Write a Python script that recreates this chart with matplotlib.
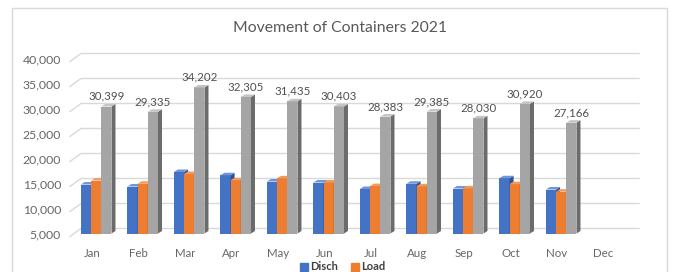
import matplotlib
matplotlib.use("Agg")
import matplotlib.pyplot as plt
from matplotlib.patches import Polygon, Rectangle
from matplotlib.lines import Line2D
import numpy as np

months = ["Jan", "Feb", "Mar", "Apr", "May", "Jun", "Jul", "Aug", "Sep", "Oct", "Nov", "Dec"]
disch = [14800, 14400, 17300, 16650, 15400, 15200, 13900, 14950, 14000, 16050, 13800]
load = [15599, 14935, 16902, 15655, 16035, 15203, 14483, 14435, 14030, 14870, 13366]
total = [30399, 29335, 34202, 32305, 31435, 30403, 28383, 29385, 28030, 30920, 27166]
yticks = [5000, 10000, 15000, 20000, 25000, 30000, 35000, 40000]

plt.rcParams['font.family'] = ['Lato', 'DejaVu Sans']

W, H = 673, 272
fig = plt.figure(figsize=(W / 100, H / 100), dpi=100)
fig.patch.set_facecolor('white')
fig.patches.append(Rectangle((12 / W, -0.1), (667 - 12) / W, 1.1 - 8 / H,
                             transform=fig.transFigure, facecolor='none',
                             edgecolor='#d9d9d9', lw=1.0))

ax_left, ax_w = 68.75, 558.0
ax_bot, ax_top = 233.5, 58.5
ax = fig.add_axes([ax_left / W, (H - ax_bot) / H, ax_w / W, (ax_bot - ax_top) / H])
ax.set_xlim(-0.5, 11.5)
ax.set_ylim(yticks[0], yticks[-1])
for s in ax.spines.values():
    s.set_visible(False)
ax.set_facecolor('none')

# px -> data units
px_y = (yticks[-1] - yticks[0]) / (ax_bot - ax_top)
px_x = 12 / ax_w

# back-wall gridlines (offset as in 3D chart)
gt = ax.get_yaxis_transform()
for v in yticks:
    xa0 = (70 - ax_left) / ax_w
    xa1 = (81 - ax_left) / ax_w
    xa2 = (639 - ax_left) / ax_w
    ax.plot([xa0, xa1, xa2], [v - 3 * px_y, v + 5 * px_y, v + 5 * px_y],
            transform=gt, color='#d9d9d9', lw=1.0, clip_on=False, zorder=0)

x = np.arange(len(total))
w = 10.2 * px_x
shift = 0.09
series = [
    (disch, -w, '#4472c4', '#2f528f', '#6f95dc', 'Disch'),
    (load, 0.0, '#ed7d31', '#a85822', '#f29b5f', 'Load'),
    (total, w, '#a5a5a5', '#6b6b6b', '#c4c4c4', 'Total'),
]
dx = 4 * px_x
dy = 2.5 * px_y
z = 2
for vals, off, fc, sc, tc, lab in series:
    bars = ax.bar(x + shift + off, np.array(vals) - yticks[0], width=w, bottom=yticks[0],
                  color=fc, zorder=z, label=lab)
    for r in bars:
        x0, x1 = r.get_x(), r.get_x() + r.get_width()
        y0, y1 = r.get_y(), r.get_y() + r.get_height()
        ax.add_patch(Polygon([(x1, y0), (x1 + dx, y0 + dy), (x1 + dx, y1 + dy), (x1, y1)],
                             closed=True, facecolor=sc, edgecolor='none', zorder=z))
        ax.add_patch(Polygon([(x0, y1), (x0 + dx, y1 + dy), (x1 + dx, y1 + dy), (x1, y1)],
                             closed=True, facecolor=tc, edgecolor='none', zorder=z))
    z += 1

for xi, t in zip(x, total):
    ax.annotate(f"{t:,}", (xi + shift + w, t), xytext=(0, 7.3), textcoords='offset points',
                ha='center', va='center', fontsize=8.3, color='#505050')

ax.set_xticks(np.arange(len(months)))
ax.set_xticklabels(months)
ax.set_yticks(yticks)
ax.set_yticklabels([f"{v:,}" for v in yticks])
ax.tick_params(axis='x', length=0, pad=10.5, labelsize=8.3, labelcolor='#666666')
ax.tick_params(axis='y', length=0, pad=5.5, labelsize=8.8, labelcolor='#666666')

fig.text(340 / W, 1 - 28 / H, "Movement of Containers 2021", ha='center', va='center',
         fontsize=11.3, color='#595959')

handles = [Line2D([], [], marker='s', linestyle='none', markersize=5.5, color=series[0][2]),
           Line2D([], [], marker='s', linestyle='none', markersize=5.5, color=series[1][2])]
leg = fig.legend(handles, [series[0][5], series[1][5]], loc='center', ncol=2,
                 bbox_to_anchor=(343 / W, 1 - 267 / H), frameon=False,
                 handlelength=0.6, handletextpad=0.3, columnspacing=1.2,
                 prop={'size': 8, 'weight': 'bold'})
for t in leg.get_texts():
    t.set_color('#404040')

fig.savefig("out.png", dpi=100)
